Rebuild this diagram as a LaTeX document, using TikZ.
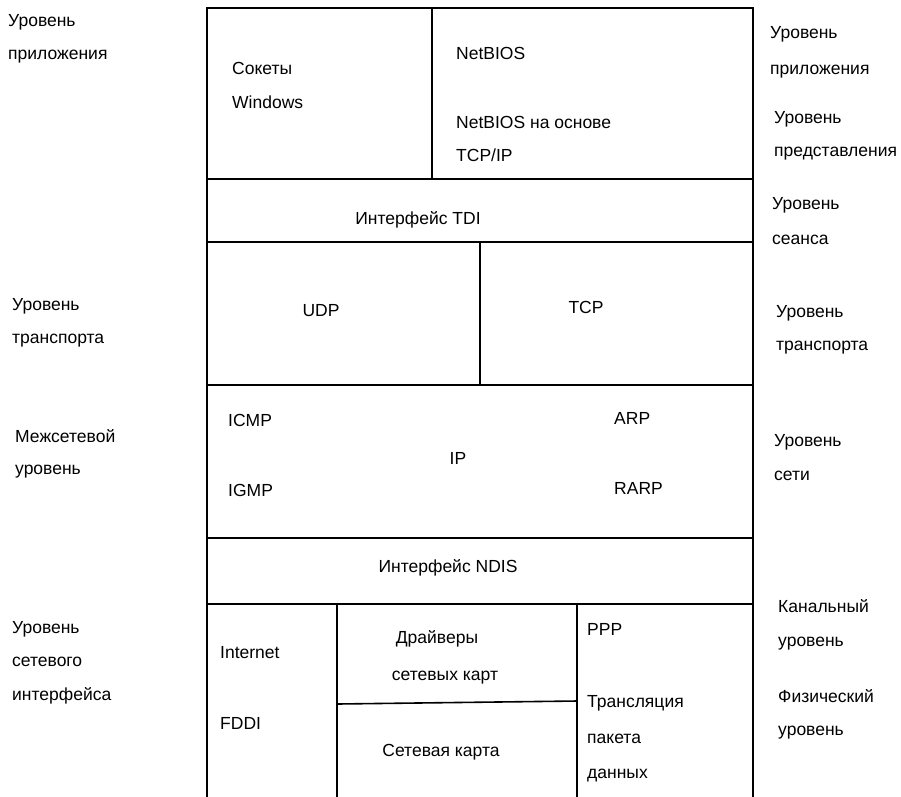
\documentclass[tikz,border=0pt]{standalone}
\usepackage{fontspec}
\setmainfont{Liberation Sans}
\begin{document}
\begin{tikzpicture}[x=1pt,y=-1pt,
  frame/.style={line width=1.6pt, line cap=rect},
  lt/.style={anchor=mid west, inner sep=0pt, yshift=-3.5pt, font=\fontsize{17.5}{20}\selectfont},
  ct/.style={anchor=mid, inner sep=0pt, yshift=-3.5pt, font=\fontsize{17.5}{20}\selectfont}]
\useasboundingbox (0,0) rectangle (901,796);
% frame
\draw[frame] (207,796) -- (207,8) -- (753,8) -- (753,796);
\draw[frame] (207,179) -- (753,179);
\draw[frame] (432,8) -- (432,179);
\draw[frame] (207,242) -- (753,242);
\draw[frame] (480,242) -- (480,385);
\draw[frame] (207,385) -- (753,385);
\draw[frame] (207,538) -- (753,538);
\draw[frame] (207,604) -- (753,604);
\draw[frame] (337,604) -- (337,796);
\draw[frame] (577,604) -- (577,796);
\draw[frame] (337,704) -- (577,701);
% inner texts
\node[lt] (sok) at (232,68) {Сокеты};
\node[lt] (win) at (232,102) {Windows};
\node[lt] (nb) at (456,53) {NetBIOS};
\node[lt] (nbt) at (456,122) {NetBIOS на основе};
\node[lt] (tcpip) at (456,155) {TCP/IP};
\node[ct] (tdi) at (418,218) {Интерфейс TDI};
\node[ct] (udp) at (321,310) {UDP};
\node[ct] (tcp) at (586,307) {TCP};
\node[lt] (icmp) at (228,420) {ICMP};
\node[lt] (igmp) at (228,490) {IGMP};
\node[ct] (ip) at (458,458) {IP};
\node[lt] (arp) at (614,418) {ARP};
\node[lt] (rarp) at (614,488) {RARP};
\node[ct] (ndis) at (448,566) {Интерфейс NDIS};
\node[lt] (inet) at (220,652) {Internet};
\node[lt] (fddi) at (220,723) {FDDI};
\node[ct] (drv) at (437,637) {Драйверы};
\node[ct] (drv2) at (445,674) {сетевых карт};
\node[ct] (card) at (441,750) {Сетевая карта};
\node[lt] (ppp) at (587,629) {PPP};
\node[lt] (tr1) at (587,701) {Трансляция};
\node[lt] (tr2) at (587,737) {пакета};
\node[lt] (tr3) at (587,772) {данных};
% left labels
\node[lt] (l1a) at (8,20) {Уровень};
\node[lt] (l1b) at (8,53) {приложения};
\node[lt] (l2a) at (12,304) {Уровень};
\node[lt] (l2b) at (12,337) {транспорта};
\node[lt] (l3a) at (15,436) {Межсетевой};
\node[lt] (l3b) at (15,468) {уровень};
\node[lt] (l4a) at (12,627) {Уровень};
\node[lt] (l4b) at (12,660) {сетевого};
\node[lt] (l4c) at (12,694) {интерфейса};
% right labels
\node[lt] (r1a) at (770,32) {Уровень};
\node[lt] (r1b) at (770,68) {приложения};
\node[lt] (r2a) at (774,117) {Уровень};
\node[lt] (r2b) at (774,150) {представления};
\node[lt] (r3a) at (772,203) {Уровень};
\node[lt] (r3b) at (772,238) {сеанса};
\node[lt] (r4a) at (776,311) {Уровень};
\node[lt] (r4b) at (776,344) {транспорта};
\node[lt] (r5a) at (774,440) {Уровень};
\node[lt] (r5b) at (774,474) {сети};
\node[lt] (r6a) at (778,606) {Канальный};
\node[lt] (r6b) at (778,640) {уровень};
\node[lt] (r7a) at (778,696) {Физический};
\node[lt] (r7b) at (778,729) {уровень};
\end{tikzpicture}
\end{document}
